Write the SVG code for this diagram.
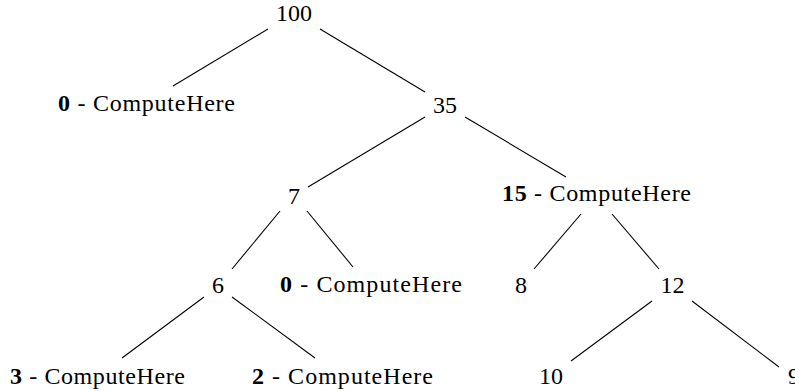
<svg xmlns="http://www.w3.org/2000/svg" width="795" height="391" viewBox="0 0 795 391">
<style>
text{font-family:"Liberation Serif","Times New Roman",serif;font-size:24px;fill:#000;text-anchor:middle}
.b{font-weight:bold}
#edges line{stroke:#000;stroke-width:1.1}
</style>
<rect width="795" height="391" fill="#fff"/>
<g id="edges">
<line x1="268" y1="29" x2="173" y2="86"/>
<line x1="320" y1="29" x2="425" y2="92"/>
<line x1="425" y1="117" x2="308" y2="187"/>
<line x1="465" y1="117" x2="566" y2="177"/>
<line x1="280" y1="211" x2="232" y2="269"/>
<line x1="307" y1="211" x2="353" y2="267"/>
<line x1="581" y1="214" x2="534" y2="269"/>
<line x1="612" y1="214" x2="659" y2="269"/>
<line x1="204" y1="297" x2="122" y2="358"/>
<line x1="232" y1="297" x2="315" y2="358"/>
<line x1="652" y1="301" x2="571" y2="361"/>
<line x1="692" y1="301" x2="779" y2="367"/>
</g>
<g id="n100"><text x="294" y="21">100</text></g>
<g id="n0a"><text x="146.5" y="110.5" textLength="177" lengthAdjust="spacing"><tspan class="b">0</tspan> - ComputeHere</text></g>
<g id="n35"><text x="445" y="113">35</text></g>
<g id="n7"><text x="294" y="203.5">7</text></g>
<g id="n15"><text x="596.5" y="201" textLength="189" lengthAdjust="spacing"><tspan class="b">15</tspan> - ComputeHere</text></g>
<g id="n6"><text x="218" y="293">6</text></g>
<g id="n0b"><text x="371" y="291.5" textLength="182" lengthAdjust="spacing"><tspan class="b">0</tspan> - ComputeHere</text></g>
<g id="n8"><text x="521" y="293">8</text></g>
<g id="n12"><text x="672.5" y="293">12</text></g>
<g id="n3"><text x="97.5" y="384" textLength="175" lengthAdjust="spacing"><tspan class="b">3</tspan> - ComputeHere</text></g>
<g id="n2"><text x="342.5" y="384" textLength="181" lengthAdjust="spacing"><tspan class="b">2</tspan> - ComputeHere</text></g>
<g id="n10"><text x="551" y="384">10</text></g>
<g id="n9"><text x="794" y="384">9</text></g>
</svg>
